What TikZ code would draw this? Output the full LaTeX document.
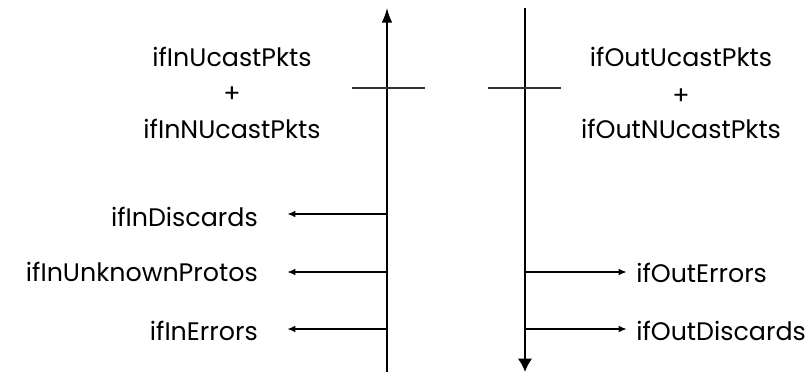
\documentclass[tikz,border=0pt]{standalone}
\usepackage{fontspec}
\setmainfont{Poppins}
\usetikzlibrary{arrows.meta}
\tikzstyle{annot}=[align=center, inner sep=0pt, font=\fontsize{19}{22}\selectfont]
\tikzstyle{trunk}=[draw=black]
\tikzstyle{branch}=[draw=black, line width=1pt, -{Latex[length=6pt,width=5pt]}]
\tikzstyle{tick}=[draw=black!80, line width=1.3pt]

\begin{document}
\begin{tikzpicture}[x=0.75pt, y=-0.75pt]
	\useasboundingbox (0,0) rectangle (807,374);

	% the two counter lines
	\coordinate (inbot) at (387,372);
	\coordinate (intop) at (387,8);
	\coordinate (outtop) at (525,8);
	\coordinate (outbot) at (525,372);
	\draw[trunk, line width=1.1pt, -{Latex[length=11pt,width=8pt]}] (inbot) -- (intop);
	\draw[trunk, line width=2pt, -{Latex[length=10pt,width=11pt]}] (outtop) -- (outbot);

	% the crossing marks
	\coordinate (inl) at (352,88);
	\coordinate (inr) at (425,88);
	\coordinate (outl) at (488,88);
	\coordinate (outr) at (561,88);
	\draw[tick] (inl) -- (inr);
	\draw[tick] (outl) -- (outr);

	% unicast counters
	\node[annot](inucast) at (232,57){ifInUcastPkts};
	\node[annot](inplus) at (232,95){+};
	\node[annot](innucast) at (232,129){ifInNUcastPkts};
	\node[annot](outucast) at (681,57){ifOutUcastPkts};
	\node[annot](outplus) at (681,97){+};
	\node[annot](outnucast) at (681,129){ifOutNUcastPkts};

	% in side
	\node[annot, anchor=east](indisc) at (258,217){ifInDiscards};
	\node[annot, anchor=east](inunkn) at (258,272){ifInUnknownProtos};
	\node[annot, anchor=east](inerr) at (258,331){ifInErrors};
	\coordinate (b1) at (387,214);
	\coordinate (b2) at (387,272);
	\coordinate (b3) at (387,329);
	\draw[branch] (b1) -- ([xshift=22pt]indisc.east |- b1);
	\draw[branch] (b2) -- ([xshift=22pt]indisc.east |- b2);
	\draw[branch] (b3) -- ([xshift=22pt]indisc.east |- b3);

	% out side
	\node[annot, anchor=west](outerr) at (636,273){ifOutErrors};
	\node[annot, anchor=west](outdisc) at (636,331){ifOutDiscards};
	\coordinate (b4) at (525,272);
	\coordinate (b5) at (525,329);
	\draw[branch] (b4) -- ([xshift=-7pt]outerr.west |- b4);
	\draw[branch] (b5) -- ([xshift=-7pt]outdisc.west |- b5);
\end{tikzpicture}
\end{document}
